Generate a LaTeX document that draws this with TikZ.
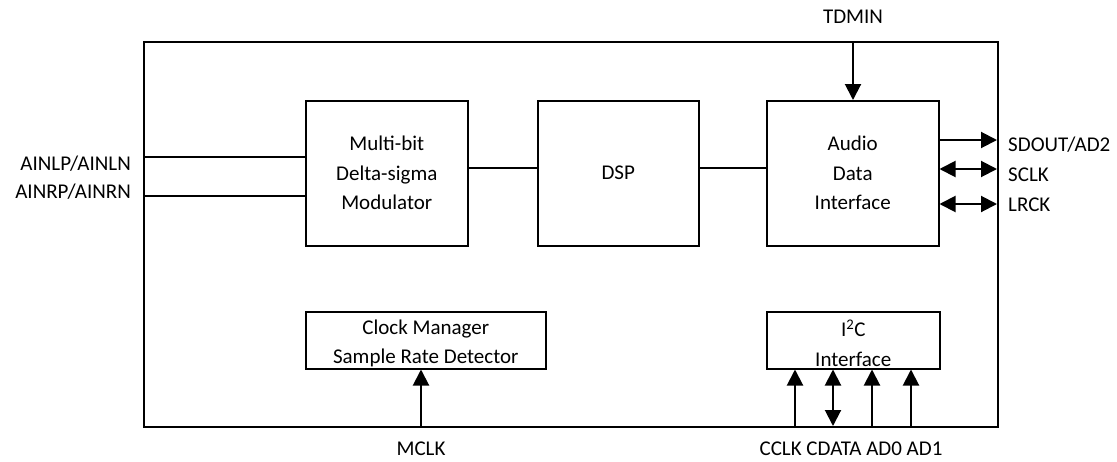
\documentclass[tikz,border=0pt]{standalone}
\usepackage{fontspec}
\setmainfont{Carlito}
\usetikzlibrary{arrows.meta}
\begin{document}
\begin{tikzpicture}[x=1pt,y=1pt,
  every node/.style={font=\fontsize{21}{29.5}\selectfont, inner sep=0pt},
  blk/.style={draw, line width=1.5pt, anchor=north west, align=center},
  txt/.style={align=center, yshift=-3pt},
  sig/.style={line width=2pt, -{Triangle[length=16pt,width=16pt]}},
  bisig/.style={line width=2pt, {Triangle[length=16pt,width=16pt]}-{Triangle[length=16pt,width=16pt]}},
  wire/.style={line width=1.5pt},
  lbl/.style={text=black}]
\useasboundingbox (0,0) rectangle (1117,-461);
% outer chip
\node[draw, line width=1.8pt, anchor=north west, minimum width=854pt, minimum height=385pt] (chip) at (143,-41) {};
% blocks
\node[blk, minimum width=162pt, minimum height=145pt] (mod) at (305,-100) {Multi-bit\\Delta-sigma\\Modulator};
\node[blk, minimum width=161pt, minimum height=145pt] (dsp) at (537,-100) {DSP};
\node[blk, minimum width=172pt, minimum height=145pt] (adi) at (766,-100) {Audio\\Data\\Interface};
\node[blk, minimum width=240pt, minimum height=57pt] (clk) at (305,-311) {};
\node[txt] (clktxt) at (clk.center) {Clock Manager\\Sample Rate Detector};
\node[blk, minimum width=173pt, minimum height=57pt] (i2c) at (766,-311) {};
\node[txt] (i2ctxt) at (i2c.center) {I\textsuperscript{2}C\\Interface};
% internal wires
\draw[wire] (mod.east |- 0,-168) -- (dsp.west |- 0,-168);
\draw[wire] (dsp.east |- 0,-168) -- (adi.west |- 0,-168);
% analog inputs
\coordinate (inl) at (143,-157);
\coordinate (inr) at (143,-196);
\draw[wire] (inl) -- (inl -| mod.west);
\draw[wire] (inr) -- (inr -| mod.west);
\node[lbl, anchor=east] (lainl) at (131,-164) {AINLP/AINLN};
\node[lbl, anchor=east] (lainr) at (131,-192) {AINRP/AINRN};
% TDMIN
\coordinate (tdm) at (853,-41);
\draw[sig] (tdm) -- (tdm |- adi.north);
\node[lbl] (ltdm) at (853,-17) {TDMIN};
% right side
\coordinate (sdo) at (997,-140);
\coordinate (sck) at (997,-169);
\coordinate (lrc) at (997,-204);
\draw[sig] (sdo -| adi.east) -- (sdo);
\draw[bisig] (sck -| adi.east) -- (sck);
\draw[bisig] (lrc -| adi.east) -- (lrc);
\node[lbl, anchor=west] (lsdo) at (1008,-145) {SDOUT/AD2};
\node[lbl, anchor=west] (lsck) at (1008,-175) {SCLK};
\node[lbl, anchor=west] (llrc) at (1008,-205) {LRCK};
% MCLK
\coordinate (mck) at (421,-426);
\draw[sig] (mck) -- (mck |- clk.south);
\node[lbl] (lmck) at (421,-449) {MCLK};
% I2C pins
\coordinate (p1) at (795,-426);
\coordinate (p2) at (833,-426);
\coordinate (p3) at (872,-426);
\coordinate (p4) at (911,-426);
\draw[sig] (p1) -- (p1 |- i2c.south);
\draw[bisig] (p2) -- (p2 |- i2c.south);
\draw[sig] (p3) -- (p3 |- i2c.south);
\draw[sig] (p4) -- (p4 |- i2c.south);
\node[lbl] (lpins) at (851,-449) {CCLK CDATA AD0 AD1};
\end{tikzpicture}
\end{document}
